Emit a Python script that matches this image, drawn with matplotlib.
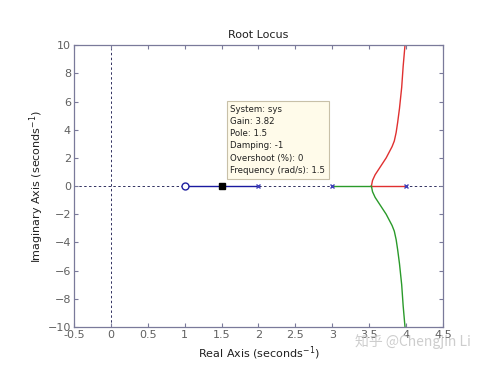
import numpy as np
import matplotlib.pyplot as plt

plt.rcParams['font.family'] = ['DejaVu Sans', 'Noto Sans CJK SC']

# open-loop poles / zero
poles = [2, 3, 4]
zeros = [1]

# branch 1: pole at 2 -> zero at 1 (blue)
blue_re = [1.0, 2.0]
blue_im = [0.0, 0.0]

# branches from poles 3 and 4, breakaway near 3.53
red_re = [3.53, 3.545, 3.58, 3.63, 3.68, 3.73, 3.77, 3.81, 3.84, 3.865, 3.885, 3.91, 3.94, 3.96, 3.985]
red_im = [0.0, 0.4, 0.8, 1.2, 1.6, 2.0, 2.4, 2.8, 3.2, 3.8, 4.5, 5.5, 7.0, 8.5, 10.0]
green_re = [3.53, 3.545, 3.58, 3.63, 3.68, 3.73, 3.77, 3.81, 3.84, 3.865, 3.885, 3.91, 3.94, 3.96, 3.985]
green_im = [0.0, -0.4, -0.8, -1.2, -1.6, -2.0, -2.4, -2.8, -3.2, -3.8, -4.5, -5.5, -7.0, -8.5, -10.0]

sel_pole = 1.5
info = ["System: sys", "Gain: 3.82", "Pole: 1.5", "Damping: -1",
        "Overshoot (%): 0", "Frequency (rad/s): 1.5"]

axcol = '#7a7a9a'
fig = plt.figure(figsize=(4.89, 3.67), dpi=100)
ax = fig.add_axes([0.151, 0.109, 0.755, 0.768])

ax.axhline(0, color='#303060', ls=(0, (2.5, 2.5)), lw=0.7, zorder=1)
ax.axvline(0, color='#303060', ls=(0, (2.5, 2.5)), lw=0.7, zorder=1)

ax.plot(blue_re, blue_im, color='#1a1aa0', lw=1.0, zorder=2)
ax.plot([3.0, 3.53], [0, 0], color='#2a9a2a', lw=1.0, zorder=2)
ax.plot([3.53, 4.0], [0, 0], color='#e03030', lw=1.0, zorder=2)
ax.plot(red_re, red_im, color='#e03030', lw=1.0, zorder=2)
ax.plot(green_re, green_im, color='#2a9a2a', lw=1.0, zorder=2)

ax.plot(poles, [0] * len(poles), ls='none', marker='x', ms=3.5, mew=1.0,
        color='#4040b8', zorder=3)
ax.plot(zeros, [0] * len(zeros), ls='none', marker='o', ms=5, mfc='white',
        mec='#2020a0', mew=1.0, zorder=3)
ax.plot([sel_pole], [0], ls='none', marker='s', ms=5, color='black', zorder=4)

ax.text(1.62, 5.75, "\n".join(info), fontsize=6.2, va='top', ha='left',
        linespacing=1.45, color='#202020',
        bbox=dict(boxstyle='square,pad=0.45', fc='#fffbea', ec='#c8c0a8', lw=0.8),
        zorder=5)

ax.set_xlim(-0.5, 4.5)
ax.set_ylim(-10, 10)
ax.set_xticks(np.arange(-0.5, 4.51, 0.5))
ax.set_xticklabels(['-0.5', '0', '0.5', '1', '1.5', '2', '2.5', '3', '3.5', '4', '4.5'])
ax.set_yticks(np.arange(-10, 11, 2))
ax.tick_params(direction='in', top=True, right=True, length=3, width=0.8,
               color=axcol, labelcolor='#606060', labelsize=8, pad=2)
for sp in ax.spines.values():
    sp.set_color(axcol)
    sp.set_linewidth(0.9)

ax.set_title('Root Locus', fontsize=8, color='#202020', pad=5)
ax.set_xlabel('Real Axis (seconds$^{-1}$)', fontsize=8, color='#202020', labelpad=3)
ax.set_ylabel('Imaginary Axis (seconds$^{-1}$)', fontsize=8, color='#202020', labelpad=1)

fig.text(0.725, 0.058, '知乎 @Chengjin Li', fontsize=10, color='#c8c8c8',
         family=['Noto Sans CJK SC', 'DejaVu Sans'], alpha=0.9)

fig.savefig('out.png', dpi=100, facecolor='white')
